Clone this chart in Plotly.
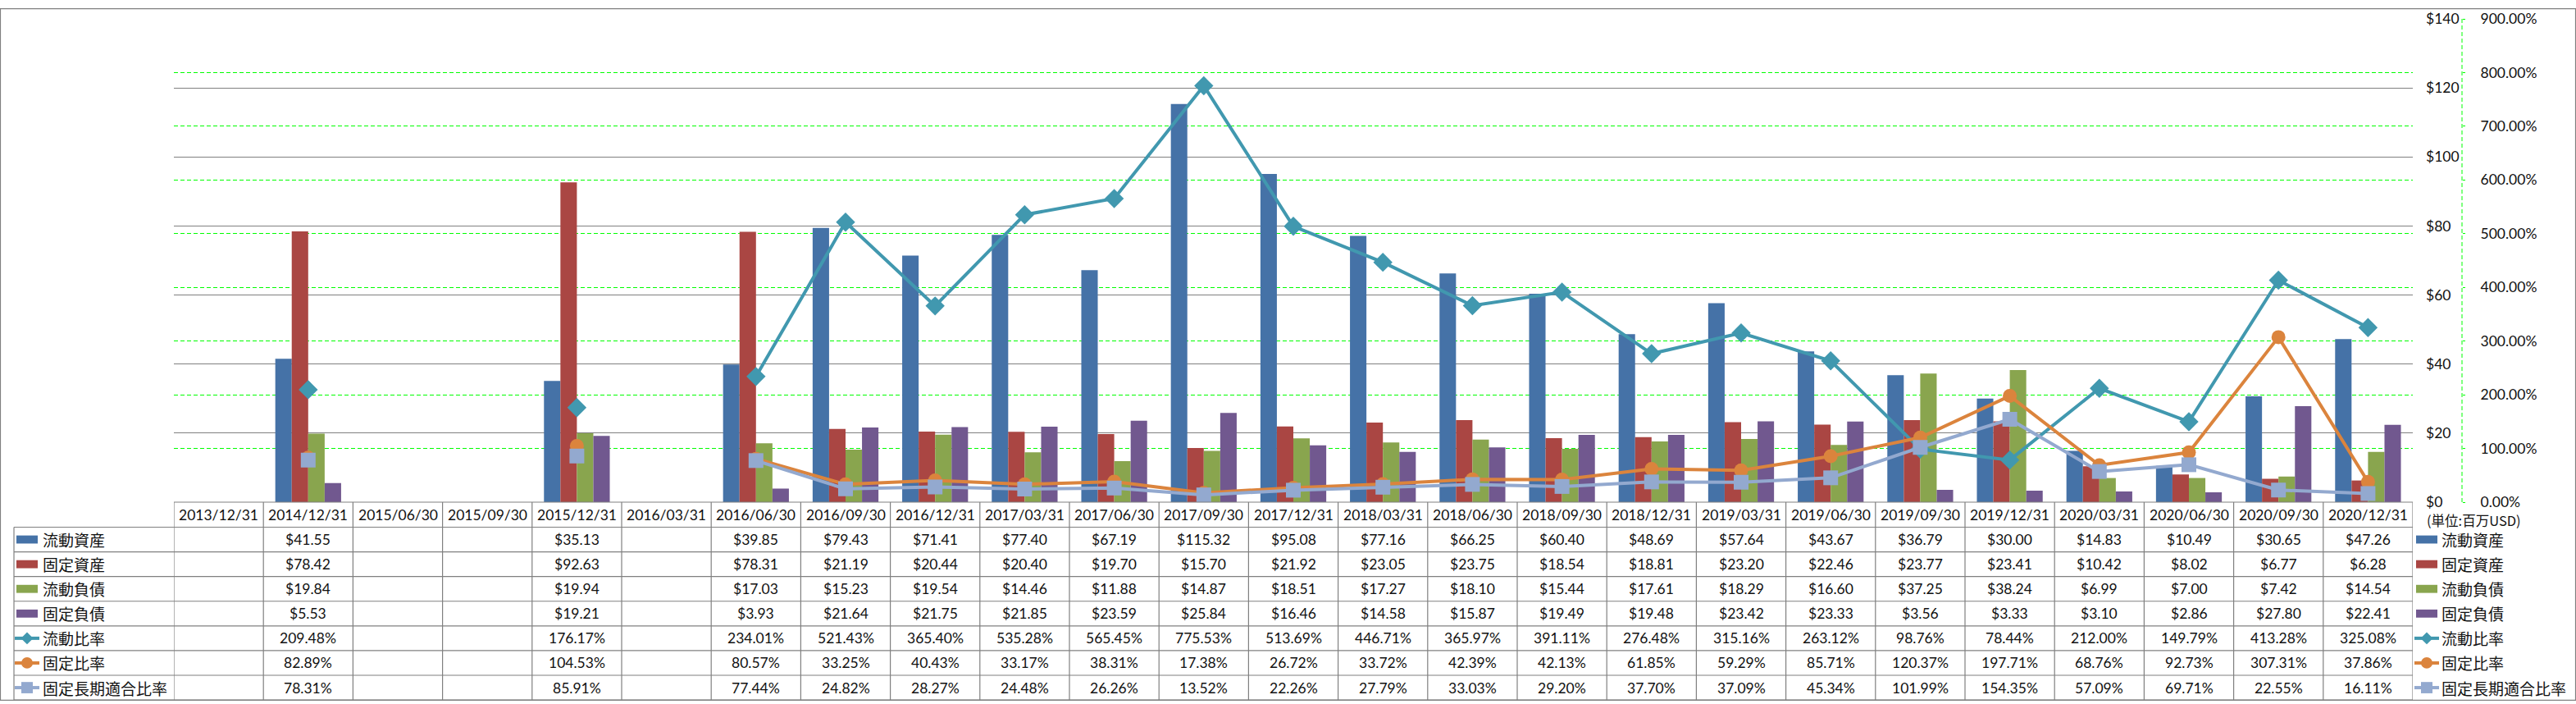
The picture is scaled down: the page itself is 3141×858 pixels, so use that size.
import plotly.graph_objects as go

categories = ["2013/12/31", "2014/12/31", "2015/06/30", "2015/09/30", "2015/12/31", "2016/03/31",
              "2016/06/30", "2016/09/30", "2016/12/31", "2017/03/31", "2017/06/30", "2017/09/30",
              "2017/12/31", "2018/03/31", "2018/06/30", "2018/09/30", "2018/12/31", "2019/03/31",
              "2019/06/30", "2019/09/30", "2019/12/31", "2020/03/31", "2020/06/30", "2020/09/30",
              "2020/12/31"]

N = None
current_assets = [N, 41.55, N, N, 35.13, N, 39.85, 79.43, 71.41, 77.40, 67.19, 115.32, 95.08, 77.16,
                  66.25, 60.40, 48.69, 57.64, 43.67, 36.79, 30.00, 14.83, 10.49, 30.65, 47.26]
fixed_assets = [N, 78.42, N, N, 92.63, N, 78.31, 21.19, 20.44, 20.40, 19.70, 15.70, 21.92, 23.05,
                23.75, 18.54, 18.81, 23.20, 22.46, 23.77, 23.41, 10.42, 8.02, 6.77, 6.28]
current_liab = [N, 19.84, N, N, 19.94, N, 17.03, 15.23, 19.54, 14.46, 11.88, 14.87, 18.51, 17.27,
                18.10, 15.44, 17.61, 18.29, 16.60, 37.25, 38.24, 6.99, 7.00, 7.42, 14.54]
fixed_liab = [N, 5.53, N, N, 19.21, N, 3.93, 21.64, 21.75, 21.85, 23.59, 25.84, 16.46, 14.58,
              15.87, 19.49, 19.48, 23.42, 23.33, 3.56, 3.33, 3.10, 2.86, 27.80, 22.41]
current_ratio = [N, 209.48, N, N, 176.17, N, 234.01, 521.43, 365.40, 535.28, 565.45, 775.53, 513.69,
                 446.71, 365.97, 391.11, 276.48, 315.16, 263.12, 98.76, 78.44, 212.00, 149.79,
                 413.28, 325.08]
fixed_ratio = [N, 82.89, N, N, 104.53, N, 80.57, 33.25, 40.43, 33.17, 38.31, 17.38, 26.72, 33.72,
               42.39, 42.13, 61.85, 59.29, 85.71, 120.37, 197.71, 68.76, 92.73, 307.31, 37.86]
fixed_lt_ratio = [N, 78.31, N, N, 85.91, N, 77.44, 24.82, 28.27, 24.48, 26.26, 13.52, 22.26, 27.79,
                  33.03, 29.20, 37.70, 37.09, 45.34, 101.99, 154.35, 57.09, 69.71, 22.55, 16.11]

bar_names = ["流動資産", "固定資産", "流動負債", "固定負債"]
line_names = ["流動比率", "固定比率", "固定長期適合比率"]
bar_series = [current_assets, fixed_assets, current_liab, fixed_liab]
line_series = [current_ratio, fixed_ratio, fixed_lt_ratio]
bar_colors = ["#4572A7", "#AA4643", "#89A54E", "#71588F"]
line_colors = ["#4198AF", "#DB843D", "#93A9CF"]
line_symbols = ["diamond", "circle", "square"]
line_sizes = [18, 17, 18]
unit_label = "(単位:百万USD)"

# ---- geometry (pixels) ----
W, H = 3141, 858
L, T, B, R = 212, 13, 246, 40
PLOT_R = 2942
PW = W - L - R
PH = H - T - B
DEND = (PLOT_R - L) / PW
AX2_X = 3002


def xp(px):
    return (px - L) / PW


def yp(py):
    return (H - B - py) / PH


LATIN = "Lato, 'Liberation Sans', sans-serif"
CJK = "'Noto Sans CJK JP', sans-serif"
FS = 17.5
GRID = "#808080"

fig = go.Figure()

for name, vals, col in zip(bar_names, bar_series, bar_colors):
    fig.add_trace(go.Bar(x=categories, y=vals, name=name, marker=dict(color=col, line=dict(width=0)),
                         yaxis="y", hoverinfo="x+y+name"))

for name, vals, col, sym, sz in zip(line_names, line_series, line_colors, line_symbols, line_sizes):
    fig.add_trace(go.Scatter(x=categories, y=vals, name=name, mode="lines+markers",
                             line=dict(color=col, width=4), connectgaps=False,
                             marker=dict(symbol=sym, size=sz, color=col), yaxis="y2",
                             cliponaxis=False))

shapes = []
annotations = []
line_style = dict(color=GRID, width=1.2)

# outer border
shapes.append(dict(type="rect", xref="paper", yref="paper", x0=xp(0.5), x1=xp(3140.5),
                   y0=yp(0.5), y1=yp(857.5), line=line_style, layer="below"))
# header top (x-axis line)
shapes.append(dict(type="line", xref="paper", yref="paper", x0=0, x1=DEND, y0=yp(612), y1=yp(612),
                   line=line_style))
# row lines
ROW_TOP, ROW_H = 643, 30.6
row_edges = [ROW_TOP + i * ROW_H for i in range(8)]
for ye in row_edges:
    shapes.append(dict(type="line", xref="paper", yref="paper", x0=xp(17), x1=DEND, y0=yp(ye), y1=yp(ye),
                       line=line_style))
shapes.append(dict(type="line", xref="paper", yref="paper", x0=xp(17), x1=xp(17),
                   y0=yp(ROW_TOP), y1=yp(row_edges[-1]), line=line_style))
# category column lines
for k in range(len(categories) + 1):
    shapes.append(dict(type="line", xref="x", yref="paper", x0=k - 0.5, x1=k - 0.5,
                       y0=yp(612), y1=yp(row_edges[-1]), line=line_style))
# dashed green secondary axis line
shapes.append(dict(type="line", xref="paper", yref="paper", x0=xp(AX2_X), x1=xp(AX2_X), y0=0, y1=1,
                   line=dict(color="#00FF00", width=1, dash="5px,3px")))

# header labels
for c in categories:
    annotations.append(dict(x=c, xref="x", y=yp(627.5), yref="paper", text=c, showarrow=False,
                            font=dict(family=LATIN, size=FS, color="#111"), xanchor="center",
                            yanchor="middle"))

row_centers = [ROW_TOP + (i + 0.5) * ROW_H for i in range(7)]
all_rows = bar_series + line_series
all_names = bar_names + line_names
for i, vals in enumerate(all_rows):
    for c, v in zip(categories, vals):
        if v is None:
            continue
        txt = f"${v:.2f}" if i < 4 else f"{v:.2f}%"
        annotations.append(dict(x=c, xref="x", y=yp(row_centers[i]), yref="paper", text=txt,
                                showarrow=False, font=dict(family=LATIN, size=FS, color="#111"),
                                xanchor="center", yanchor="middle"))


def add_key(i, xl):
    yc = row_centers[i]
    if i < 4:
        shapes.append(dict(type="rect", xref="paper", yref="paper", x0=xp(xl), x1=xp(xl + 26),
                           y0=yp(yc - 5), y1=yp(yc + 5), fillcolor=bar_colors[i], line=dict(width=0)))
    else:
        j = i - 4
        col = line_colors[j]
        shapes.append(dict(type="line", xref="paper", yref="paper", x0=xp(xl - 2), x1=xp(xl + 28),
                           y0=yp(yc), y1=yp(yc), line=dict(color=col, width=4)))
        cx = xl + 13
        if j == 0:
            path = (f"M {xp(cx - 7.5)},{yp(yc)} L {xp(cx)},{yp(yc - 7.5)} L {xp(cx + 7.5)},{yp(yc)} "
                    f"L {xp(cx)},{yp(yc + 7.5)} Z")
            shapes.append(dict(type="path", xref="paper", yref="paper", path=path, fillcolor=col,
                               line=dict(width=0)))
        elif j == 1:
            shapes.append(dict(type="circle", xref="paper", yref="paper", x0=xp(cx - 7), x1=xp(cx + 7),
                               y0=yp(yc - 7), y1=yp(yc + 7), fillcolor=col, line=dict(width=0)))
        else:
            shapes.append(dict(type="rect", xref="paper", yref="paper", x0=xp(cx - 7), x1=xp(cx + 7),
                               y0=yp(yc - 7), y1=yp(yc + 7), fillcolor=col, line=dict(width=0)))


for i, name in enumerate(all_names):
    add_key(i, 20)
    add_key(i, 2946)
    annotations.append(dict(x=xp(50), xref="paper", y=yp(row_centers[i]), yref="paper", text=name,
                            showarrow=False, font=dict(family=CJK, size=19, color="#111"),
                            xanchor="left", yanchor="middle"))
    annotations.append(dict(x=xp(2975), xref="paper", y=yp(row_centers[i]), yref="paper", text=name,
                            showarrow=False, font=dict(family=CJK, size=19, color="#111"),
                            xanchor="left", yanchor="middle"))

annotations.append(dict(x=xp(2957), xref="paper", y=yp(634), yref="paper", text=unit_label,
                        showarrow=False, font=dict(family=CJK, size=16.5, color="#111"),
                        xanchor="left", yanchor="middle"))

fig.update_layout(
    width=W, height=H,
    margin=dict(l=L, r=R, t=T, b=B, pad=0),
    paper_bgcolor="white", plot_bgcolor="white",
    showlegend=False,
    barmode="group", bargap=0.265, bargroupgap=0,
    xaxis=dict(type="category", domain=[0, DEND], range=[-0.5, len(categories) - 0.5],
               showticklabels=False, showgrid=False, showline=False, ticks="", zeroline=False,
               fixedrange=True),
    yaxis=dict(range=[0, 140], dtick=20, side="right", tickprefix="$", showgrid=True,
               gridcolor=GRID, gridwidth=1, zeroline=False, showline=False, ticks="",
               tickfont=dict(family=LATIN, size=FS, color="#111"), ticklabelstandoff=15,
               fixedrange=True),
    yaxis2=dict(range=[0, 900], dtick=100, overlaying="y", side="right", anchor="free",
                position=xp(AX2_X), tickformat=".2f", ticksuffix="%", showgrid=True,
                gridcolor="#00FF00", griddash="5px,3px", gridwidth=1, zeroline=False,
                showline=False, ticks="outside", ticklen=3, tickcolor="#00FF00", tickwidth=1,
                tickfont=dict(family=LATIN, size=FS, color="#111"), ticklabelstandoff=15,
                fixedrange=True),
    shapes=shapes,
    annotations=annotations,
)

fig.write_html("out.html", config={"displayModeBar": False},
               post_script="document.body.style.margin='0';")
